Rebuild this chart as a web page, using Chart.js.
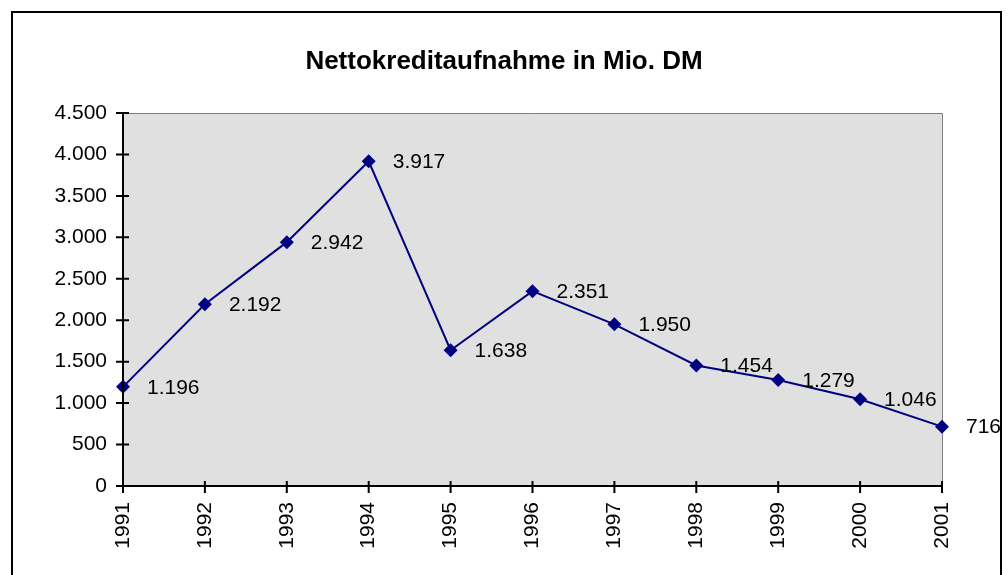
<!DOCTYPE html>
<html>
<head>
<meta charset="utf-8">
<script src="https://cdn.jsdelivr.net/npm/chart.js@4/dist/chart.umd.min.js"></script>
<style>
  html, body { margin: 0; padding: 0; background: #fff; }
  #wrap { position: relative; width: 1007px; height: 575px; overflow: hidden; }
  #frame { position: absolute; left: 11px; top: 11px; width: 987px; height: 600px; border: 2px solid #000; }
  canvas { position: absolute; left: 0; top: 0; }
</style>
</head>
<body>
<div id="wrap">
  <div id="frame"></div>
  <canvas id="chart" width="1007" height="575"></canvas>
</div>
<script>
const years = ['1991', '1992', '1993', '1994', '1995', '1996', '1997', '1998', '1999', '2000', '2001'];
const kredit = [1196, 2192, 2942, 3917, 1638, 2351, 1950, 1454, 1279, 1046, 716];
const yMin = 0;
const yMax = 4500;
const yStep = 500;
const titleText = 'Nettokreditaufnahme in Mio. DM';

const NAVY = '#000080';
const FONT = '"Liberation Sans", Arial, sans-serif';

// 1234 -> 1.234
function deNum(v) {
  return String(Math.round(v)).replace(/\B(?=(\d{3})+(?!\d))/g, '.');
}

const excelLook = {
  id: 'excelLook',
  beforeDraw(chart) {
    const { ctx, chartArea: a } = chart;
    ctx.save();
    ctx.fillStyle = '#e0e0e0';
    ctx.fillRect(a.left, a.top, a.right - a.left, a.bottom - a.top);
    ctx.strokeStyle = '#808080';
    ctx.lineWidth = 1;
    ctx.beginPath();
    ctx.moveTo(a.left, a.top + 0.5);
    ctx.lineTo(a.right + 0.5, a.top + 0.5);
    ctx.lineTo(a.right + 0.5, a.bottom);
    ctx.stroke();
    ctx.restore();
  },
  afterDatasetsDraw(chart) {
    const { ctx, chartArea: a, scales } = chart;
    ctx.save();
    // axes with crossing tick marks
    ctx.strokeStyle = '#000';
    ctx.lineWidth = 2;
    ctx.beginPath();
    ctx.moveTo(a.left, a.top - 1);
    ctx.lineTo(a.left, a.bottom);
    ctx.lineTo(a.right + 1, a.bottom);
    for (let v = yMin; v <= yMax; v += yStep) {
      const y = scales.y.getPixelForValue(v);
      ctx.moveTo(a.left - 7, y);
      ctx.lineTo(a.left + 6, y);
    }
    years.forEach((_, i) => {
      const x = scales.x.getPixelForValue(i);
      ctx.moveTo(x, a.bottom - 5);
      ctx.lineTo(x, a.bottom + 7);
    });
    ctx.stroke();

    // value labels
    const meta = chart.getDatasetMeta(0);
    ctx.fillStyle = '#000';
    ctx.font = '21px ' + FONT;
    ctx.textAlign = 'left';
    ctx.textBaseline = 'middle';
    meta.data.forEach((pt, i) => {
      ctx.fillText(deNum(kredit[i]), pt.x + 24, pt.y + 1);
    });

    // title
    ctx.font = 'bold 26px ' + FONT;
    ctx.textAlign = 'center';
    ctx.fillText(titleText, 504, 62);
    ctx.restore();
  }
};

new Chart(document.getElementById('chart'), {
  type: 'line',
  data: {
    labels: years,
    datasets: [{
      data: kredit,
      borderColor: NAVY,
      borderWidth: 2,
      backgroundColor: NAVY,
      pointStyle: 'rectRot',
      pointRadius: 7,
      pointBorderWidth: 0,
      tension: 0,
      clip: false
    }]
  },
  options: {
    responsive: false,
    animation: false,
    layout: { padding: { top: 113, right: 65, left: 0, bottom: 0 } },
    plugins: { legend: { display: false }, tooltip: { enabled: false }, title: { display: false } },
    scales: {
      x: {
        offset: false,
        grid: { display: false, drawTicks: false },
        border: { display: false },
        ticks: {
          color: '#000',
          font: { family: FONT, size: 21 },
          minRotation: 90,
          maxRotation: 90,
          padding: 16
        },
        afterFit(scale) { scale.height = 89; }
      },
      y: {
        min: yMin,
        max: yMax,
        grid: { display: false, drawTicks: false },
        border: { display: false },
        ticks: {
          stepSize: yStep,
          color: '#000',
          font: { family: FONT, size: 21 },
          padding: 16,
          callback: (v) => deNum(v)
        },
        afterFit(scale) { scale.width = 123; }
      }
    }
  },
  plugins: [excelLook]
});
</script>
</body>
</html>
